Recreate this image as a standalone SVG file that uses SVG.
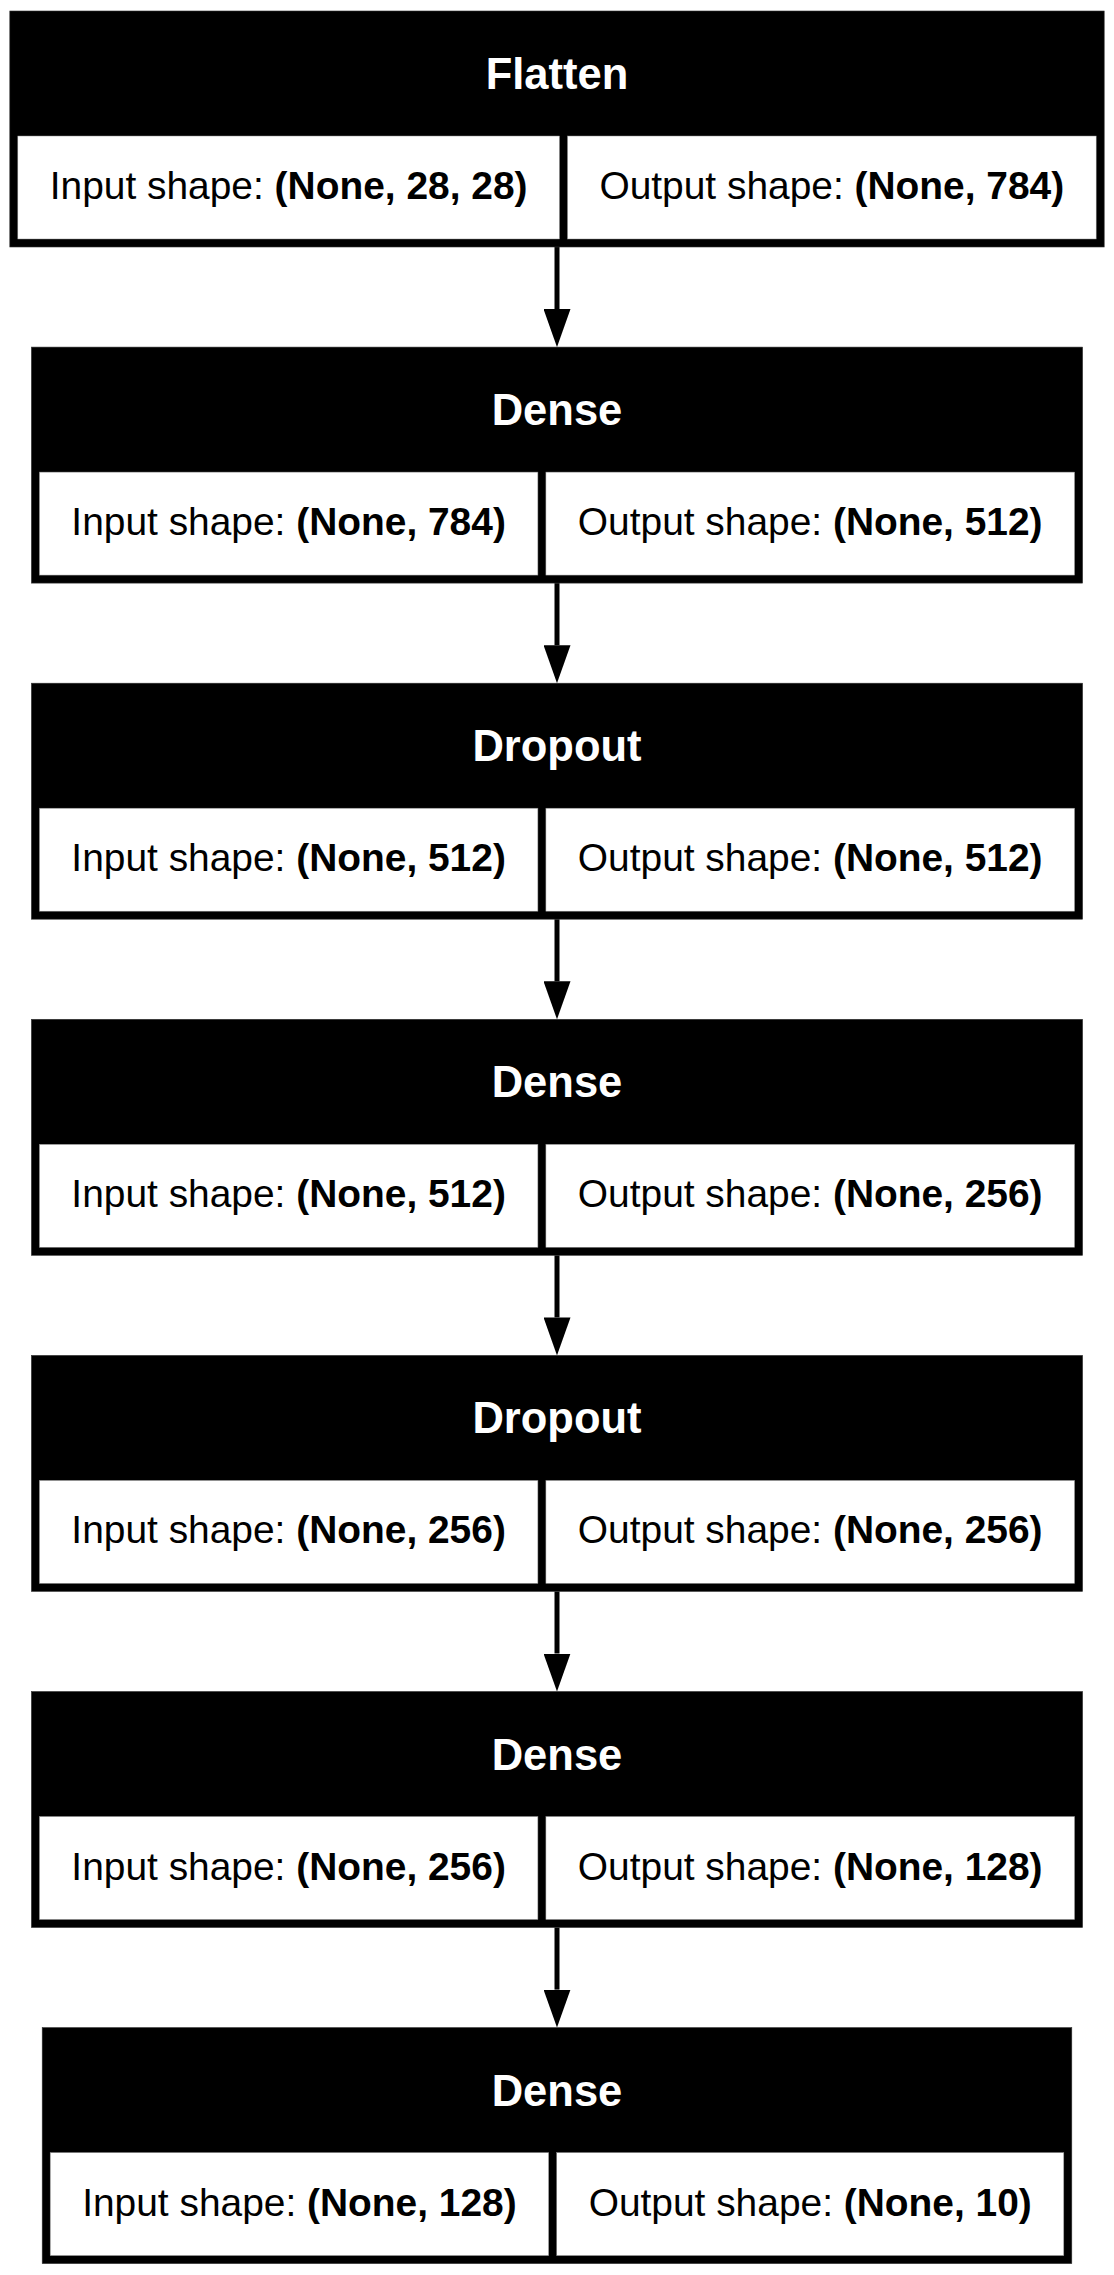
<svg xmlns="http://www.w3.org/2000/svg" width="1114" height="2275" viewBox="0 0 1114 2275">
<style>
.outer{fill:#000;stroke:#333;stroke-width:0.6}
.cell{fill:#fff;stroke:#888;stroke-width:0.5}
.hdr{font-family:"Liberation Sans",Arial,sans-serif;font-size:43.5px;font-weight:bold;fill:#fff;text-anchor:middle}
.txt{font-family:"Liberation Sans",Arial,sans-serif;font-size:38.9px;fill:#000;text-anchor:middle}
.b{font-weight:bold}
.edge{stroke:#000;stroke-width:5;fill:none;marker-end:url(#ah)}
</style>
<defs>
<marker id="ah" viewBox="0 0 38 27" refX="0" refY="13.5" markerWidth="38" markerHeight="27" markerUnits="userSpaceOnUse" orient="auto">
<path d="M0,0 L38,13.5 L0,27 Z" fill="#000"/>
</marker>
</defs>
<rect width="1114" height="2275" fill="#fff"/>

<g id="connectors">
<line class="edge" x1="557" y1="247" x2="557" y2="309.1"/>
<line class="edge" x1="557" y1="583.1" x2="557" y2="645.2"/>
<line class="edge" x1="557" y1="919.2" x2="557" y2="981.3"/>
<line class="edge" x1="557" y1="1255.3" x2="557" y2="1317.4"/>
<line class="edge" x1="557" y1="1591.4" x2="557" y2="1653.5"/>
<line class="edge" x1="557" y1="1927.5" x2="557" y2="1989.6"/>
</g>

<g id="node-flatten">
<rect class="outer" x="9.8" y="11" width="1094.4" height="236"/>
<rect class="cell" x="17.8" y="136" width="541.7" height="103"/>
<rect class="cell" x="567.5" y="136" width="528.7" height="103"/>
<text class="hdr" x="557" y="89">Flatten</text>
<text class="txt" x="288.6" y="199">Input shape: <tspan class="b">(None, 28, 28)</tspan></text>
<text class="txt" x="831.8" y="199">Output shape: <tspan class="b">(None, 784)</tspan></text>
</g>

<g id="node-dense-1">
<rect class="outer" x="31.4" y="347.1" width="1051.2" height="236"/>
<rect class="cell" x="39.4" y="472.1" width="498.5" height="103"/>
<rect class="cell" x="545.9" y="472.1" width="528.7" height="103"/>
<text class="hdr" x="557" y="425.1">Dense</text>
<text class="txt" x="288.6" y="535.1">Input shape: <tspan class="b">(None, 784)</tspan></text>
<text class="txt" x="810.2" y="535.1">Output shape: <tspan class="b">(None, 512)</tspan></text>
</g>

<g id="node-dropout-1">
<rect class="outer" x="31.4" y="683.2" width="1051.2" height="236"/>
<rect class="cell" x="39.4" y="808.2" width="498.5" height="103"/>
<rect class="cell" x="545.9" y="808.2" width="528.7" height="103"/>
<text class="hdr" x="557" y="761.2">Dropout</text>
<text class="txt" x="288.6" y="871.2">Input shape: <tspan class="b">(None, 512)</tspan></text>
<text class="txt" x="810.2" y="871.2">Output shape: <tspan class="b">(None, 512)</tspan></text>
</g>

<g id="node-dense-2">
<rect class="outer" x="31.4" y="1019.3" width="1051.2" height="236"/>
<rect class="cell" x="39.4" y="1144.3" width="498.5" height="103"/>
<rect class="cell" x="545.9" y="1144.3" width="528.7" height="103"/>
<text class="hdr" x="557" y="1097.3">Dense</text>
<text class="txt" x="288.6" y="1207.3">Input shape: <tspan class="b">(None, 512)</tspan></text>
<text class="txt" x="810.2" y="1207.3">Output shape: <tspan class="b">(None, 256)</tspan></text>
</g>

<g id="node-dropout-2">
<rect class="outer" x="31.4" y="1355.4" width="1051.2" height="236"/>
<rect class="cell" x="39.4" y="1480.4" width="498.5" height="103"/>
<rect class="cell" x="545.9" y="1480.4" width="528.7" height="103"/>
<text class="hdr" x="557" y="1433.4">Dropout</text>
<text class="txt" x="288.6" y="1543.4">Input shape: <tspan class="b">(None, 256)</tspan></text>
<text class="txt" x="810.2" y="1543.4">Output shape: <tspan class="b">(None, 256)</tspan></text>
</g>

<g id="node-dense-3">
<rect class="outer" x="31.4" y="1691.5" width="1051.2" height="236"/>
<rect class="cell" x="39.4" y="1816.5" width="498.5" height="103"/>
<rect class="cell" x="545.9" y="1816.5" width="528.7" height="103"/>
<text class="hdr" x="557" y="1769.5">Dense</text>
<text class="txt" x="288.6" y="1879.5">Input shape: <tspan class="b">(None, 256)</tspan></text>
<text class="txt" x="810.2" y="1879.5">Output shape: <tspan class="b">(None, 128)</tspan></text>
</g>

<g id="node-dense-4">
<rect class="outer" x="42.2" y="2027.6" width="1029.6" height="236"/>
<rect class="cell" x="50.2" y="2152.6" width="498.5" height="103"/>
<rect class="cell" x="556.7" y="2152.6" width="507.1" height="103"/>
<text class="hdr" x="557" y="2105.6">Dense</text>
<text class="txt" x="299.4" y="2215.6">Input shape: <tspan class="b">(None, 128)</tspan></text>
<text class="txt" x="810.2" y="2215.6">Output shape: <tspan class="b">(None, 10)</tspan></text>
</g>
</svg>
